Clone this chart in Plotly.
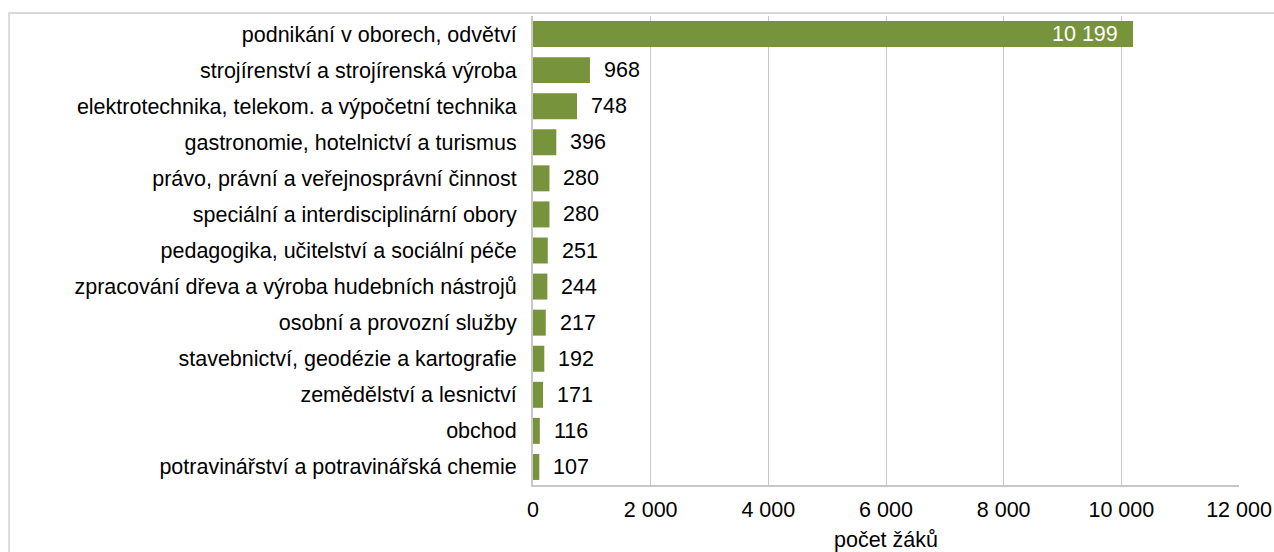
import plotly.graph_objects as go

# obory vzdělání a počty žáků
obory = [
    "podnikání v oborech, odvětví",
    "strojírenství a strojírenská výroba",
    "elektrotechnika, telekom. a výpočetní technika",
    "gastronomie, hotelnictví a turismus",
    "právo, právní a veřejnosprávní činnost",
    "speciální a interdisciplinární obory",
    "pedagogika, učitelství a sociální péče",
    "zpracování dřeva a výroba hudebních nástrojů",
    "osobní a provozní služby",
    "stavebnictví, geodézie a kartografie",
    "zemědělství a lesnictví",
    "obchod",
    "potravinářství a potravinářská chemie",
]
pocty = [10199, 968, 748, 396, 280, 280, 251, 244, 217, 192, 171, 116, 107]
tick_vals = [0, 2000, 4000, 6000, 8000, 10000, 12000]

BAR = "#77933C"
GRID = "#c8c8c8"
FS = 21.5

fig = go.Figure()
fig.add_trace(go.Bar(
    x=pocty,
    y=obory,
    orientation="h",
    marker=dict(color=BAR, line=dict(width=0)),
    hoverinfo="x+y",
))

# popisky hodnot
for i, (o, v) in enumerate(zip(obory, pocty)):
    txt = f"{v:,}".replace(",", " ")
    if i == 0:
        fig.add_annotation(x=v, y=o, text=txt, showarrow=False, xanchor="right",
                           xshift=-13, font=dict(color="white", size=FS))
    else:
        fig.add_annotation(x=v, y=o, text=txt, showarrow=False, xanchor="left",
                           xshift=12, font=dict(color="black", size=FS))

# rámeček grafu
fig.add_shape(type="rect", xref="paper", yref="paper",
              x0=-0.742, x1=1.2, y0=-0.3, y1=1.0064,
              line=dict(color="#d9d9d9", width=2), layer="below")

fig.update_layout(
    width=1274, height=552,
    margin=dict(l=533, r=35, t=16, b=67),
    paper_bgcolor="white", plot_bgcolor="white",
    font=dict(family="Liberation Sans, Arial, sans-serif", size=FS, color="black"),
    separators=", ",
    bargap=0.28,
    showlegend=False,
    xaxis=dict(
        range=[0, 12000], tickvals=tick_vals, tickformat=",d",
        showgrid=True, gridcolor=GRID, gridwidth=1,
        showline=True, linecolor=GRID, linewidth=2, mirror=False,
        zeroline=False, ticks="", ticklabelstandoff=4, automargin=False,
        title=dict(text="počet žáků", standoff=16, font=dict(size=FS)),
    ),
    yaxis=dict(
        autorange="reversed", showline=True, linecolor=GRID, linewidth=2,
        ticks="", ticklabelstandoff=10, showgrid=False, automargin=False,
    ),
)

# bez okraje stránky, aby graf seděl přesně do okna
fig.write_html("out.html", config={"displayModeBar": False},
               post_script="document.body.style.margin='0';")
